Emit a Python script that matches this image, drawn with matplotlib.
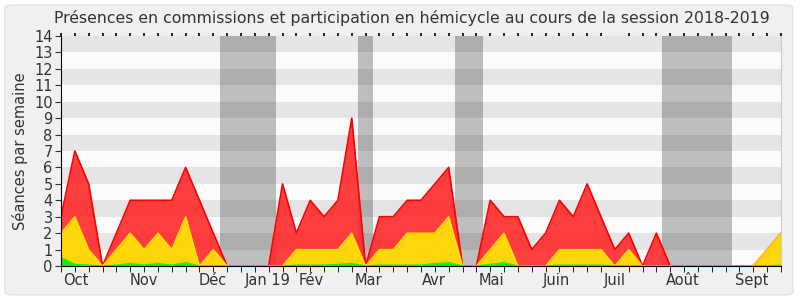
import numpy as np
import matplotlib.pyplot as plt
from matplotlib.patches import FancyBboxPatch

plt.rcParams['font.family'] = ['DejaVu Sans']

# weekly values, week 0 = start of October 2018
total = [3, 7, 5, 0, 2, 4, 4, 4, 4, 6, 4, 2, 0, 0, 0, 0, 5, 2, 4, 3, 4, 9, 0,
         3, 3, 4, 4, 5, 6, 0, 0, 4, 3, 3, 1, 2, 4, 3, 5, 3, 1, 2, 0, 2, 0,
         0, 0, 0, 0, 0, 0, 1, 2]
commission = [2, 3, 1, 0, 1, 2, 1, 2, 1, 3, 0, 1, 0, 0, 0, 0, 0, 1, 1, 1, 1, 2, 0,
              1, 1, 2, 2, 2, 3, 0, 0, 1, 2, 0, 0, 0, 1, 1, 1, 1, 0, 1, 0, 0, 0,
              0, 0, 0, 0, 0, 0, 1, 2]
hemicycle = [0.5, 0.1, 0.05, 0, 0.05, 0.15, 0.05, 0.15, 0.05, 0.2, 0, 0, 0, 0, 0, 0, 0,
             0.05, 0.05, 0.05, 0.1, 0.15, 0, 0.05, 0.05, 0.05, 0.05, 0.15, 0.2, 0, 0,
             0.1, 0.2, 0, 0, 0, 0.05, 0.05, 0.05, 0.05, 0, 0, 0, 0, 0,
             0, 0, 0, 0, 0, 0, 0, 0.05]

month_labels = ['Oct', 'Nov', 'Déc', 'Jan 19', 'Fév', 'Mar', 'Avr', 'Mai',
                'Juin', 'Juil', 'Août', 'Sept']
month_pos = [1.1, 5.95, 10.95, 14.9, 18.1, 22.2, 26.9, 31.1, 35.8, 40.0, 44.9, 49.9]

vacances = [(11.5, 15.5), (21.45, 22.5), (28.45, 30.5), (43.4, 48.45)]

weeks = np.arange(len(total))

fig = plt.figure(figsize=(8, 3), dpi=100, facecolor='white')
fig.patches.append(FancyBboxPatch((0.006, 0.017), 0.985, 0.966,
                                  boxstyle='round,pad=0,rounding_size=0.01',
                                  transform=fig.transFigure, facecolor='#f0f0f0',
                                  edgecolor='#e2e2e2', linewidth=1, zorder=-10))

ax = fig.add_axes([0.07625, 0.11333, 0.9, 0.76667])
ax.set_facecolor('#fbfbfb')

for a, b in vacances:
    ax.axvspan(a, b, color='#bebebe', lw=0, zorder=1)
for k in range(1, 14, 2):
    ax.axhspan(k, k + 1, color='black', alpha=0.085, lw=0, zorder=2)

ax.fill_between(weeks, 0, total, color='#ff2a2a', alpha=0.9, lw=0, zorder=3)
ax.plot(weeks, total, color='#ff0000', lw=1.2, zorder=4)
ax.fill_between(weeks, 0, commission, color='#ffd60a', lw=0, zorder=5)
ax.plot(weeks, commission, color='#ffe800', lw=1, zorder=6)
ax.fill_between(weeks, 0, hemicycle, color='#22e022', lw=0, zorder=7)
ax.plot(weeks, hemicycle, color='#00ff00', lw=1, zorder=8)

ax.set_xlim(0, 52)
ax.set_ylim(0, 14)
ax.set_yticks(range(15))
ax.tick_params(axis='y', labelsize=10.5, length=4, pad=2, colors='#333333',
               labelcolor='#333333')
ax.set_xticks(month_pos)
ax.set_xticklabels(month_labels, fontsize=10.5, color='#333333')
ax.tick_params(axis='x', which='major', length=0, pad=5)
ax.set_xticks(np.arange(0, 53), minor=True)
ax.tick_params(axis='x', which='minor', length=4, top=True, bottom=True,
               direction='out')
for t in ax.xaxis.get_minor_ticks():
    t.tick2line.set_markersize(2)
    t.tick2line.set_markeredgewidth(1.2)

ax.spines['top'].set_visible(False)
ax.spines['right'].set_color('#cccccc')
ax.spines['left'].set_color('black')
ax.spines['bottom'].set_color('black')
for s in ax.spines.values():
    s.set_zorder(10)

ax.set_ylabel('Séances par semaine', fontsize=10.5, color='#333333', labelpad=4)
fig.text(0.515, 0.94, 'Présences en commissions et participation en hémicycle au cours de la session 2018-2019',
         ha='center', va='center', fontsize=11.3, color='#333333')

fig.savefig('out.png', dpi=100, facecolor=fig.get_facecolor())
